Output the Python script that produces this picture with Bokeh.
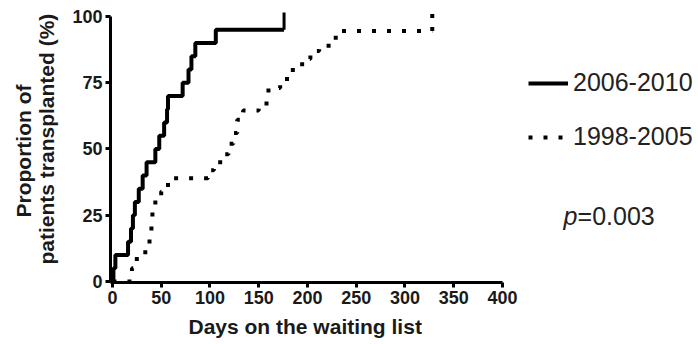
import math
from bokeh.plotting import figure
from bokeh.models import (FixedTicker, Label, Legend, LegendItem, Range1d, Title)
from bokeh.embed import file_html
from bokeh.resources import INLINE

# ---- data ----
# 2006-2010 cohort: cumulative proportion transplanted (%)
days_2006 = [0, 1, 3, 16, 19, 21, 23, 27, 31, 35, 44, 48, 53, 56, 57, 72, 78, 81, 85, 106, 176]
pct_2006 = [0, 5, 10, 15, 20, 25, 30, 35, 40, 45, 50, 55, 60, 65, 70, 75, 80, 85, 90, 95, 95]
censor_2006_day = [176]
censor_2006_lo = [95]
censor_2006_hi = [101.5]

# 1998-2005 cohort
days_1998 = [0, 20, 25, 38, 40, 41, 44, 50, 57, 98, 104, 114, 119, 124, 128, 134, 150,
             158, 160, 172, 179, 185, 197, 203, 212, 227, 229, 328]
pct_1998 = [0, 5, 11, 17, 22, 28, 31, 34, 39, 42, 45, 48, 52, 56, 61, 64.5, 66,
            68, 73, 75, 78, 82, 84, 87, 89, 90.5, 94.5, 94.5]
censor_1998_day = [328]
censor_1998_lo = [94.5]
censor_1998_hi = [101]

x_ticks = [0, 50, 100, 150, 200, 250, 300, 350, 400]
y_ticks = [0, 25, 50, 75, 100]
series_names = ["2006-2010", "1998-2005"]
p_value_text = "=0.003"

FONT = "Liberation Sans"
TXT = "#1a1a1a"

p = figure(width=698, height=344, output_backend="svg", toolbar_location=None,
           x_range=Range1d(-2, 599.0), y_range=Range1d(-0.377, 102.26),
           min_border_left=110, min_border_right=2, min_border_top=10, min_border_bottom=62)
p.outline_line_color = None
p.xgrid.visible = False
p.ygrid.visible = False
p.background_fill_color = "white"
p.border_fill_color = "white"

for ax in (p.xaxis[0], p.yaxis[0]):
    ax.axis_line_width = 3
    ax.axis_line_color = "black"
    ax.major_tick_line_width = 3
    ax.major_tick_line_color = "black"
    ax.major_tick_out = 5
    ax.major_tick_in = 0
    ax.minor_tick_line_color = None
    ax.major_label_text_font = FONT
    ax.major_label_text_font_style = "bold"
    ax.major_label_text_font_size = "18px"
    ax.major_label_text_color = TXT
    ax.major_label_standoff = 3

p.xaxis[0].ticker = FixedTicker(ticks=x_ticks)
p.yaxis[0].ticker = FixedTicker(ticks=y_ticks)
p.xaxis[0].bounds = (-2, 400)
p.yaxis[0].bounds = (-1.5, 100)

r_new = p.step(days_2006, pct_2006, mode="after", line_color="black", line_width=4)
p.segment(x0=censor_2006_day, y0=censor_2006_lo, x1=censor_2006_day, y1=censor_2006_hi,
          line_color="black", line_width=3)

r_old = p.step(days_1998, pct_1998, mode="after", line_color="black", line_width=4,
               line_dash="4 11", line_cap="butt")
p.segment(x0=censor_1998_day, y0=censor_1998_lo, x1=censor_1998_day, y1=censor_1998_hi,
          line_color="black", line_width=4, line_dash="4 9")

legend = Legend(items=[LegendItem(label=series_names[0], renderers=[r_new]),
                       LegendItem(label=series_names[1], renderers=[r_old])],
                location=(418, 131), orientation="vertical",
                glyph_width=40, glyph_height=20, label_standoff=5, spacing=25,
                padding=0, margin=0, border_line_color=None, background_fill_alpha=0,
                label_text_font=FONT, label_text_font_size="25px", label_text_color="#222222")
p.add_layout(legend, "center")

p.add_layout(Label(x=462.6, y=24.9, text="p", text_font=FONT, text_font_style="italic",
                   text_font_size="25px", text_color="#222222", text_baseline="middle",
                   text_align="left"))
p.add_layout(Label(x=477.0, y=24.9, text=p_value_text, text_font=FONT,
                   text_font_size="25px", text_color="#222222", text_baseline="middle",
                   text_align="left"))

# axis titles (as side-panel titles so they are never clipped)
p.add_layout(Title(text="Days on the waiting list", align="left", offset=78, standoff=12,
                   text_font=FONT, text_font_style="bold", text_font_size="21px",
                   text_color=TXT), "below")
p.add_layout(Title(text="patients transplanted (%)", align="left", offset=18, standoff=23,
                   text_font=FONT, text_font_style="bold", text_font_size="21px",
                   text_color=TXT), "left")
p.add_layout(Title(text="Proportion of", align="left", offset=65, standoff=-26,
                   text_font=FONT, text_font_style="bold", text_font_size="21px",
                   text_color=TXT), "left")

open("out.html", "w").write(file_html(p, INLINE))
